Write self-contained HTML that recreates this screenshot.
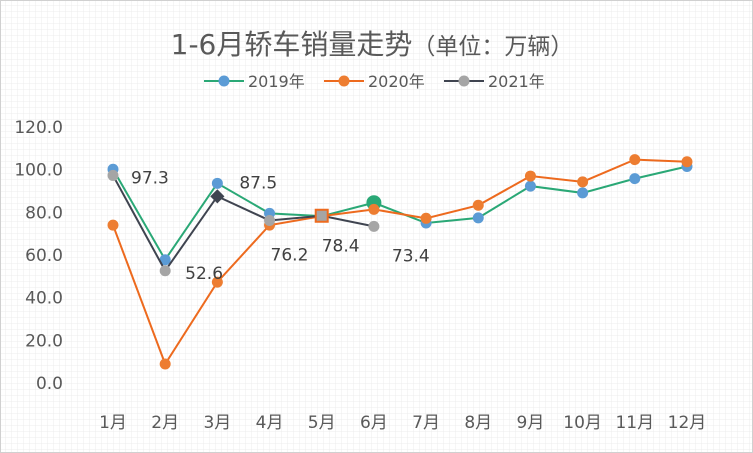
<!DOCTYPE html>
<html><head><meta charset="utf-8"><style>
body{margin:0;background:#fff}
svg{display:block;font-family:"DejaVu Sans","Noto Sans CJK SC",sans-serif}
</style></head><body>
<svg width="753" height="453" id="c">
<defs><pattern id="g" width="6" height="6" patternUnits="userSpaceOnUse"><path d="M6 0V6M0 6H6" stroke="#ececec" stroke-width="1" fill="none"/></pattern></defs>
<rect x="0.5" y="0.5" width="752" height="452" fill="url(#g)" stroke="#d0d0d0"/>
<text x="372" y="54" text-anchor="middle" font-size="28" fill="#595959">1-6月轿车销量走势<tspan font-size="23">（单位：万辆）</tspan></text>
<g id="legend" font-size="16" fill="#595959"></g>
<g id="axis" font-size="17" fill="#595959"></g>
<g id="plot"></g>
</svg>
<script>
const categories=["1月","2月","3月","4月","5月","6月","7月","8月","9月","10月","11月","12月"];
const s2019=[100.2,57.8,93.6,79.5,78.2,84.5,75.0,77.4,92.3,89.1,95.8,101.5];
const s2020=[74.0,8.9,47.3,74.0,78.2,81.4,77.2,83.3,97.0,94.3,104.7,103.7];
const s2021=[97.3,52.6,87.5,76.2,78.4,73.4];
const yTicks=[0,20,40,60,80,100,120];
const NS="http://www.w3.org/2000/svg";
const x=i=>113+i*52.18;
const y=v=>383-v*(256/120);
function mk(t,a,p){const e=document.createElementNS(NS,t);for(const k in a)e.setAttribute(k,a[k]);p.appendChild(e);return e;}
const ax=document.getElementById('axis'),pl=document.getElementById('plot'),lg=document.getElementById('legend');
yTicks.forEach(v=>{const t=mk('text',{x:63,y:y(v)+6,'text-anchor':'end'},ax);t.textContent=v.toFixed(1);

});
categories.forEach((c,i)=>{const t=mk('text',{x:x(i),y:428,'text-anchor':'middle'},ax);t.textContent=c;

});
function series(data,line,mark,name){
 const l=mk('polyline',{points:data.map((v,i)=>x(i)+','+y(v)).join(' '),fill:'none',stroke:line,'stroke-width':2},pl);
 
 
 return data.map((v,i)=>{const c=mk('circle',{cx:x(i),cy:y(v),r:5.5,fill:mark},pl);
 
 return c;});
}
const p19=series(s2019,'#2aa876','#5b9bd5','series-2019');
p19[5].setAttribute('r',7.5);p19[5].setAttribute('fill','#2aa876');
series(s2020,'#ed6a1e','#ed7d31','series-2020');
const p21=series(s2021,'#3f4450','#a5a5a5','series-2021');
p21[2].remove();
const d=mk('rect',{x:x(2)-5,y:y(s2021[2])-5,width:10,height:10,fill:'#3f4450',transform:`rotate(45 ${x(2)} ${y(s2021[2])})`},pl);


p21[4].remove();
const sq=mk('rect',{x:x(4)-6,y:y(s2021[4])-6,width:12,height:12,fill:'#a5a5a5',stroke:'#ed6a1e','stroke-width':2},pl);


const off=[[18,8],[20,8],[22,-8],[1,40],[0,36],[18,35]];
s2021.forEach((v,i)=>{const t=mk('text',{x:x(i)+off[i][0],y:y(v)+off[i][1],'font-size':17,fill:'#404040'},pl);
t.textContent=v.toFixed(1);

});
[["2019年",204,'#2aa876','#5b9bd5'],["2020年",324,'#ed6a1e','#ed7d31'],["2021年",444,'#3f4450','#a5a5a5']].forEach(([n,lx,lc,mc])=>{
 const g=mk('g',{},lg);
 mk('line',{x1:lx,y1:81,x2:lx+40,y2:81,stroke:lc,'stroke-width':2},g);
 mk('circle',{cx:lx+20,cy:81,r:5.5,fill:mc},g);
 const t=mk('text',{x:lx+44,y:87},g);t.textContent=n;
});
</script>
</body></html>
